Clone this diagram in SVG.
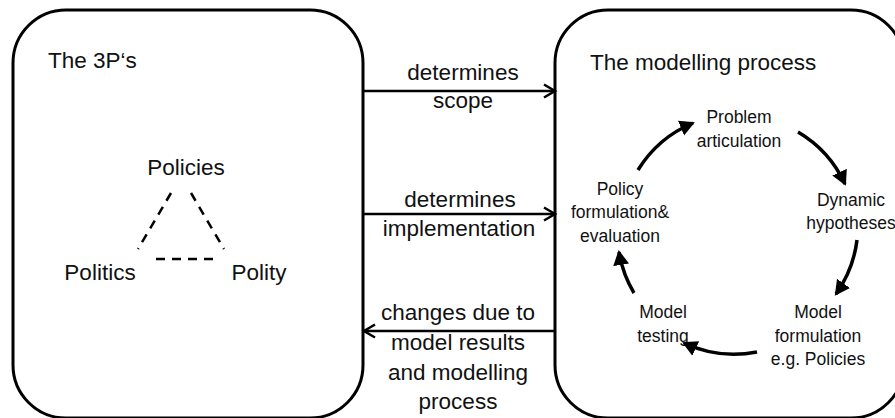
<svg xmlns="http://www.w3.org/2000/svg" width="895" height="418" viewBox="0 0 895 418">
<style>
.box{fill:none;stroke:#000;stroke-width:3}
.big{font-family:"Liberation Sans",Arial,sans-serif;font-size:22.5px;fill:#111}
.sm{font-family:"Liberation Sans",Arial,sans-serif;font-size:17.5px;fill:#111}
.mid{text-anchor:middle}
.dash{fill:none;stroke:#000;stroke-width:2.5;stroke-dasharray:9 7}
.link{fill:none;stroke:#000;stroke-width:2.5}
.cyc{fill:none;stroke:#000;stroke-width:3.5;marker-end:url(#tri)}
</style>
<defs>
<marker id="chev" markerUnits="userSpaceOnUse" markerWidth="16" markerHeight="16" refX="13" refY="8" orient="auto">
<path d="M2,1.5 L13,8 L2,14.5" fill="none" stroke="#000" stroke-width="2.5"/>
</marker>
<marker id="tri" markerUnits="userSpaceOnUse" markerWidth="18" markerHeight="18" refX="13" refY="8" orient="auto">
<path d="M0,0 L15,8 L0,16 z" fill="#000"/>
</marker>
</defs>
<rect width="895" height="418" fill="#fff"/>
<g id="threeP">
<rect class="box" x="13" y="10" width="350" height="408" rx="53" ry="53"/>
<text class="big" x="48" y="68">The 3P‘s</text>
</g>
<g id="policies"><text class="big mid" x="186" y="175">Policies</text></g>
<g id="politics"><text class="big mid" x="100" y="280">Politics</text></g>
<g id="polity"><text class="big mid" x="259" y="280">Polity</text></g>
<g id="triangle">
<line class="dash" x1="171" y1="193" x2="138" y2="249"/>
<line class="dash" x1="191" y1="193" x2="224" y2="249"/>
<line class="dash" x1="156" y1="259" x2="219" y2="259"/>
</g>
<g id="modelling">
<rect class="box" x="555" y="10" width="349" height="408" rx="53" ry="53"/>
<text class="big" x="590" y="70">The modelling process</text>
</g>
<g id="problem"><text class="sm mid" x="739" y="123">Problem</text><text class="sm mid" x="739" y="147">articulation</text></g>
<g id="dynamic"><text class="sm mid" x="851" y="206">Dynamic</text><text class="sm mid" x="851" y="229">hypotheses</text></g>
<g id="formulation"><text class="sm mid" x="818" y="318">Model</text><text class="sm mid" x="818" y="342">formulation</text><text class="sm mid" x="818" y="365">e.g. Policies</text></g>
<g id="testing"><text class="sm mid" x="663" y="318">Model</text><text class="sm mid" x="663" y="342">testing</text></g>
<g id="policy"><text class="sm mid" x="620" y="195">Policy</text><text class="sm mid" x="620" y="218">formulation&amp;</text><text class="sm mid" x="620" y="242">evaluation</text></g>
<g id="connectors">
<line class="link" x1="363" y1="91" x2="555" y2="91" marker-end="url(#chev)"/>
<line class="link" x1="363" y1="214" x2="555" y2="214" marker-end="url(#chev)"/>
<line class="link" x1="555" y1="331" x2="364" y2="331" marker-end="url(#chev)"/>
<text class="big mid" x="463" y="80">determines</text>
<text class="big mid" x="463" y="108">scope</text>
<text class="big mid" x="460" y="207">determines</text>
<text class="big mid" x="459" y="236">implementation</text>
<text class="big mid" x="458" y="320">changes due to</text>
<text class="big mid" x="458" y="350">model results</text>
<text class="big mid" x="458" y="380">and modelling</text>
<text class="big mid" x="458" y="409">process</text>
<path class="cyc" d="M638,170 A118,118 0 0 1 693,123"/>
<path class="cyc" d="M798,132 A118,118 0 0 1 845,184"/>
<path class="cyc" d="M857,240 A118,118 0 0 1 836,294"/>
<path class="cyc" d="M757,352 A118,118 0 0 1 684,343"/>
<path class="cyc" d="M634,293 A118,118 0 0 1 619,252"/>
</g>
</svg>
